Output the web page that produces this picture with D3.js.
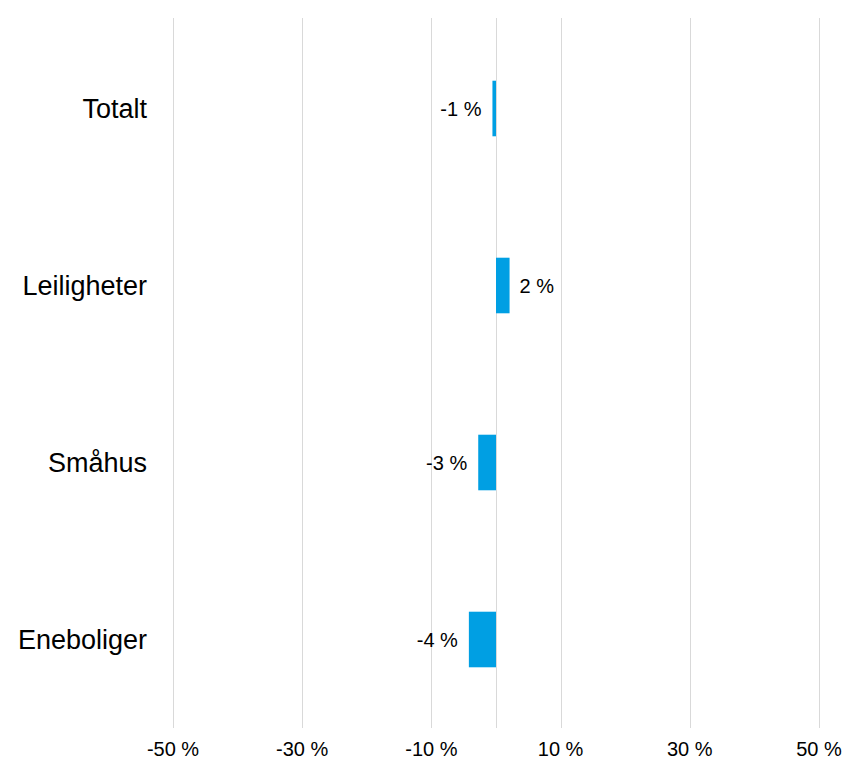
<!DOCTYPE html>
<html>
<head>
<meta charset="utf-8">
<script src="https://cdn.jsdelivr.net/npm/d3@7"></script>
<style>
  body { margin: 0; background: #fff; }
  text { font-family: "Liberation Sans", Arial, sans-serif; fill: #000; }
</style>
</head>
<body>
<div id="chart"></div>
<script>
const categories = ["Totalt", "Leiligheter", "Småhus", "Eneboliger"];
const values = [-0.55, 2.1, -2.75, -4.2];
const valueLabels = ["-1 %", "2 %", "-3 %", "-4 %"];
const ticks = [-50, -30, -10, 10, 30, 50];

const width = 846, height = 761;
const margin = { top: 20, right: 27, bottom: 33, left: 173 };

const svg = d3.select("#chart").append("svg")
  .attr("width", width)
  .attr("height", height);

const x = d3.scaleLinear()
  .domain([-50, 50])
  .range([margin.left, width - margin.right]);

const y = d3.scaleBand()
  .domain(categories)
  .range([margin.top, height - margin.bottom])
  .paddingInner(0.686)
  .paddingOuter(0.343);

// gridlines + zero line
svg.append("g")
  .selectAll("line")
  .data(ticks.concat([0]))
  .enter().append("line")
  .attr("x1", d => Math.round(x(d)) + 0.5)
  .attr("x2", d => Math.round(x(d)) + 0.5)
  .attr("y1", margin.top - 2)
  .attr("y2", height - margin.bottom)
  .attr("stroke", "#d9d9d9")
  .attr("stroke-width", 1);

// x tick labels
svg.append("g")
  .selectAll("text")
  .data(ticks)
  .enter().append("text")
  .attr("x", d => x(d))
  .attr("y", 756)
  .attr("text-anchor", "middle")
  .attr("font-size", 20)
  .text(d => d + " %");

// category labels
svg.append("g")
  .selectAll("text")
  .data(categories)
  .enter().append("text")
  .attr("x", 147)
  .attr("y", d => y(d) + y.bandwidth() / 2)
  .attr("dy", "0.35em")
  .attr("text-anchor", "end")
  .attr("font-size", 27)
  .text(d => d);

// bars
svg.append("g")
  .selectAll("rect")
  .data(values)
  .enter().append("rect")
  .attr("x", d => Math.min(x(0), x(d)))
  .attr("width", d => Math.abs(x(d) - x(0)))
  .attr("y", (d, i) => y(categories[i]))
  .attr("height", y.bandwidth())
  .attr("fill", "#009fe3");

// value labels
svg.append("g")
  .selectAll("text")
  .data(values)
  .enter().append("text")
  .attr("x", d => d < 0 ? x(d) - 11 : x(d) + 10)
  .attr("y", (d, i) => y(categories[i]) + y.bandwidth() / 2)
  .attr("dy", "0.35em")
  .attr("text-anchor", d => d < 0 ? "end" : "start")
  .attr("font-size", 20)
  .text((d, i) => valueLabels[i]);
</script>
</body>
</html>
